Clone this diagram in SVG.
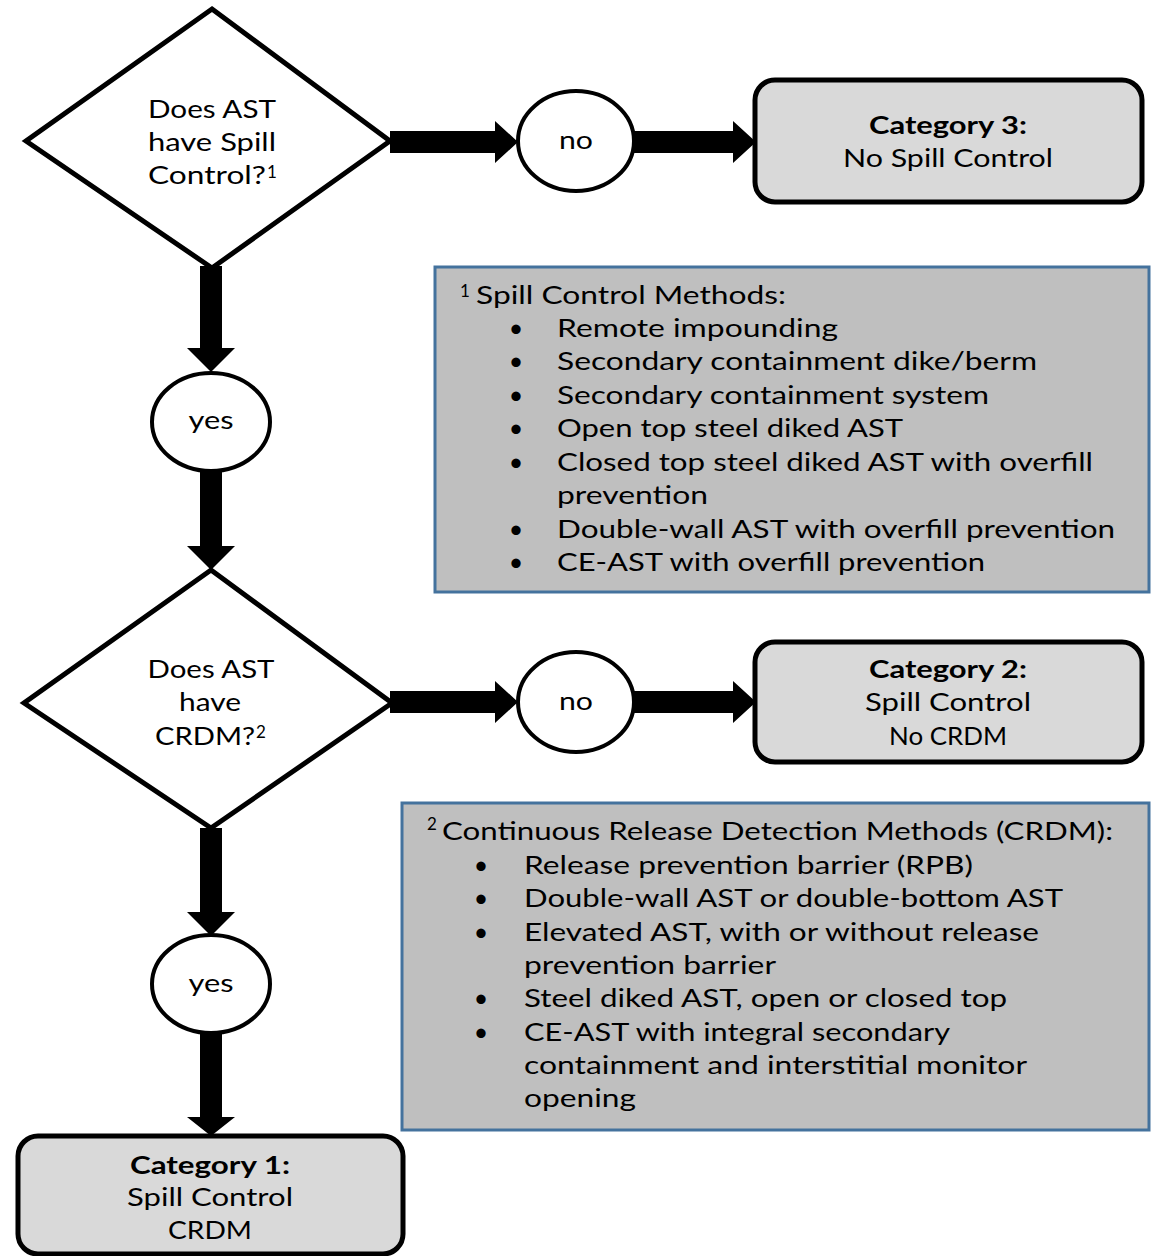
<svg xmlns="http://www.w3.org/2000/svg" width="1154" height="1256" viewBox="0 0 1154 1256">
<style>
text{font-family:Lato,"Liberation Sans",sans-serif;font-size:25px;fill:#000}
.b{font-weight:bold}
.m{text-anchor:middle}
.sup{font-size:17px}
.dia{fill:#fff;stroke:#000;stroke-width:5;stroke-linejoin:miter}
.circ{fill:#fff;stroke:#000;stroke-width:4}
.cat{fill:#d9d9d9;stroke:#000;stroke-width:5}
.note{fill:#bfbfbf;stroke:#44729d;stroke-width:3}
.arr{fill:#000;stroke:none}
</style>
<rect width="1154" height="1256" fill="#fff"/>

<g id="connectors">
  <!-- diamond1 -> no1 -->
  <polygon class="arr" points="390,131 495,131 495,121 518,142 495,163 495,153 390,153"/>
  <!-- no1 -> cat3 -->
  <polygon class="arr" points="634,131 733,131 733,121 756,142 733,163 733,153 634,153"/>
  <!-- diamond1 -> yes1 -->
  <polygon class="arr" points="200,266 222,266 222,348 235,348 211,372 187,348 200,348"/>
  <!-- yes1 -> diamond2 -->
  <polygon class="arr" points="200,470 222,470 222,546 235,546 211,570 187,546 200,546"/>
  <!-- diamond2 -> no2 -->
  <polygon class="arr" points="390,691 495,691 495,681 518,702 495,723 495,713 390,713"/>
  <!-- no2 -> cat2 -->
  <polygon class="arr" points="634,691 733,691 733,681 756,702 733,723 733,713 634,713"/>
  <!-- diamond2 -> yes2 -->
  <polygon class="arr" points="200,828 222,828 222,912 235,912 211,936 187,912 200,912"/>
  <!-- yes2 -> cat1 -->
  <polygon class="arr" points="200,1032 222,1032 222,1117 235,1117 211,1136 187,1117 200,1117"/>
</g>

<g id="decision1">
  <polygon class="dia" points="212,9 390,141 212,268 26,141"/>
  <text class="m" x="212" y="118" textLength="128" lengthAdjust="spacingAndGlyphs">Does AST</text>
  <text class="m" x="212" y="151" textLength="128" lengthAdjust="spacingAndGlyphs">have Spill</text>
  <text x="148" y="184" textLength="118" lengthAdjust="spacingAndGlyphs">Control?</text>
  <text class="sup" x="267" y="178">1</text>
</g>

<g id="no1">
  <ellipse class="circ" cx="576" cy="141" rx="58" ry="50"/>
  <text class="m" x="576" y="149" textLength="34" lengthAdjust="spacingAndGlyphs">no</text>
</g>

<g id="cat3">
  <rect class="cat" x="755" y="80" width="387" height="122" rx="20"/>
  <text class="m b" x="948" y="134" textLength="158" lengthAdjust="spacingAndGlyphs">Category 3:</text>
  <text class="m" x="948" y="167" textLength="210" lengthAdjust="spacingAndGlyphs">No Spill Control</text>
</g>

<g id="note1">
  <rect class="note" x="435" y="267" width="714" height="325"/>
  <text class="sup" x="460" y="297">1</text>
  <text x="476" y="304" textLength="310" lengthAdjust="spacingAndGlyphs">Spill Control Methods:</text>
  <g class="m">
    <text x="516" y="337">•</text>
    <text x="516" y="370">•</text>
    <text x="516" y="404">•</text>
    <text x="516" y="437">•</text>
    <text x="516" y="471">•</text>
    <text x="516" y="538">•</text>
    <text x="516" y="571">•</text>
  </g>
  <text x="557" y="337" textLength="281" lengthAdjust="spacingAndGlyphs">Remote impounding</text>
  <text x="557" y="370" textLength="480" lengthAdjust="spacingAndGlyphs">Secondary containment dike/berm</text>
  <text x="557" y="404" textLength="432" lengthAdjust="spacingAndGlyphs">Secondary containment system</text>
  <text x="557" y="437" textLength="346" lengthAdjust="spacingAndGlyphs">Open top steel diked AST</text>
  <text x="557" y="471" textLength="536" lengthAdjust="spacingAndGlyphs">Closed top steel diked AST with overfill</text>
  <text x="557" y="504" textLength="151" lengthAdjust="spacingAndGlyphs">prevention</text>
  <text x="557" y="538" textLength="558" lengthAdjust="spacingAndGlyphs">Double-wall AST with overfill prevention</text>
  <text x="557" y="571" textLength="428" lengthAdjust="spacingAndGlyphs">CE-AST with overfill prevention</text>
</g>

<g id="yes1">
  <ellipse class="circ" cx="211" cy="422" rx="59" ry="49"/>
  <text class="m" x="211" y="429" textLength="45" lengthAdjust="spacingAndGlyphs">yes</text>
</g>

<g id="decision2">
  <polygon class="dia" points="211,570 392,703 211,828 24,703"/>
  <text class="m" x="211" y="678" textLength="127" lengthAdjust="spacingAndGlyphs">Does AST</text>
  <text class="m" x="210" y="711" textLength="62" lengthAdjust="spacingAndGlyphs">have</text>
  <text x="155" y="745" textLength="100" lengthAdjust="spacingAndGlyphs">CRDM?</text>
  <text class="sup" x="256" y="738">2</text>
</g>

<g id="no2">
  <ellipse class="circ" cx="576" cy="702" rx="58" ry="50"/>
  <text class="m" x="576" y="710" textLength="34" lengthAdjust="spacingAndGlyphs">no</text>
</g>

<g id="cat2">
  <rect class="cat" x="755" y="642" width="387" height="120" rx="20"/>
  <text class="m b" x="948" y="678" textLength="158" lengthAdjust="spacingAndGlyphs">Category 2:</text>
  <text class="m" x="948" y="711" textLength="166" lengthAdjust="spacingAndGlyphs">Spill Control</text>
  <text class="m" x="948" y="745" textLength="118" lengthAdjust="spacingAndGlyphs">No CRDM</text>
</g>

<g id="note2">
  <rect class="note" x="402" y="803" width="747" height="327"/>
  <text class="sup" x="427" y="830">2</text>
  <text x="442" y="840" textLength="671" lengthAdjust="spacingAndGlyphs">Continuous Release Detection Methods (CRDM):</text>
  <g class="m">
    <text x="481" y="874">•</text>
    <text x="481" y="907">•</text>
    <text x="481" y="941">•</text>
    <text x="481" y="1007">•</text>
    <text x="481" y="1041">•</text>
  </g>
  <text x="524" y="874" textLength="449" lengthAdjust="spacingAndGlyphs">Release prevention barrier (RPB)</text>
  <text x="524" y="907" textLength="539" lengthAdjust="spacingAndGlyphs">Double-wall AST or double-bottom AST</text>
  <text x="524" y="941" textLength="515" lengthAdjust="spacingAndGlyphs">Elevated AST, with or without release</text>
  <text x="524" y="974" textLength="252" lengthAdjust="spacingAndGlyphs">prevention barrier</text>
  <text x="524" y="1007" textLength="483" lengthAdjust="spacingAndGlyphs">Steel diked AST, open or closed top</text>
  <text x="524" y="1041" textLength="426" lengthAdjust="spacingAndGlyphs">CE-AST with integral secondary</text>
  <text x="524" y="1074" textLength="503" lengthAdjust="spacingAndGlyphs">containment and interstitial monitor</text>
  <text x="524" y="1107" textLength="112" lengthAdjust="spacingAndGlyphs">opening</text>
</g>

<g id="yes2">
  <ellipse class="circ" cx="211" cy="984" rx="59" ry="49"/>
  <text class="m" x="211" y="992" textLength="45" lengthAdjust="spacingAndGlyphs">yes</text>
</g>

<g id="cat1">
  <rect class="cat" x="18" y="1136" width="385" height="118" rx="20"/>
  <text class="m b" x="210" y="1174" textLength="160" lengthAdjust="spacingAndGlyphs">Category 1:</text>
  <text class="m" x="210" y="1206" textLength="166" lengthAdjust="spacingAndGlyphs">Spill Control</text>
  <text class="m" x="210" y="1239" textLength="84" lengthAdjust="spacingAndGlyphs">CRDM</text>
</g>
</svg>
